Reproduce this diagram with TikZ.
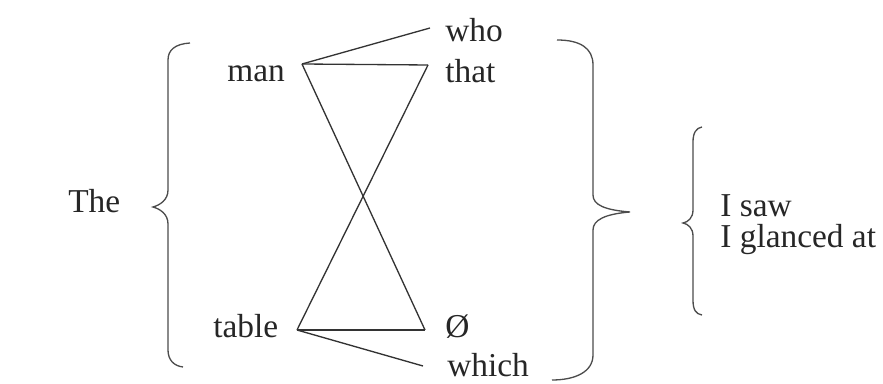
\documentclass[tikz,border=0pt]{standalone}
\usepackage{fontspec}
\setmainfont{Liberation Serif}

\begin{document}
\begin{tikzpicture}[
    x=0.02cm, y=-0.02cm,
    word/.style={anchor=base west, inner sep=0pt, font=\fontsize{19}{23}\selectfont, text=black!85},
    link/.style={draw=black!80, line width=0.75pt},
    bracket/.style={draw=black!70, line width=0.75pt}
  ]
  \useasboundingbox (0,0) rectangle (883,384);
  % words
  \node[word] (the) at (68,213) {The};
  \node[word] (man) at (227,82) {man};
  \node[word] (who) at (445,42) {who};
  \node[word] (that) at (445,83) {that};
  \node[word] (table) at (213,338) {table};
  \node[word] (zero) at (445,338) {Ø};
  \node[word] (which) at (447,377) {which};
  \node[word] (saw) at (720,217) {I saw};
  \node[word] (glanced) at (720,248) {I glanced at};
  % line ends beside the words
  \coordinate (manR) at (302,64);
  \coordinate (whoL) at (430,28);
  \coordinate (thatL) at (428,65);
  \coordinate (tableR) at (297,330);
  \coordinate (zeroL) at (425,330);
  \coordinate (whichL) at (423,366);
  \draw[link] (manR) -- (whoL);
  \draw[link] (manR) -- (thatL);
  \draw[link] (manR) -- (zeroL);
  \draw[link] (thatL) -- (tableR);
  \draw[link] (tableR) -- (zeroL);
  \draw[link] (tableR) -- (whichL);
  % braces
  \draw[bracket] (190,43) .. controls (175,44) and (168,50) .. (168,60) -- (168,190)
    .. controls (168,200) and (160,205) .. (153,207)
    .. controls (160,209) and (168,214) .. (168,224) -- (168,350)
    .. controls (168,360) and (174,366) .. (183,367);
  \draw[bracket] (557,40) .. controls (580,40) and (593,48) .. (593,65) -- (593,195)
    .. controls (593,205) and (605,210) .. (630,212)
    .. controls (605,214) and (593,220) .. (593,230) -- (593,355)
    .. controls (593,372) and (575,380) .. (552,380);
  \draw[bracket] (702,127) .. controls (696,128) and (693,133) .. (693,142) -- (693,210)
    .. controls (693,218) and (688,222) .. (683,223)
    .. controls (688,224) and (693,228) .. (693,236) -- (693,300)
    .. controls (693,310) and (696,314) .. (702,315);
\end{tikzpicture}
\end{document}
